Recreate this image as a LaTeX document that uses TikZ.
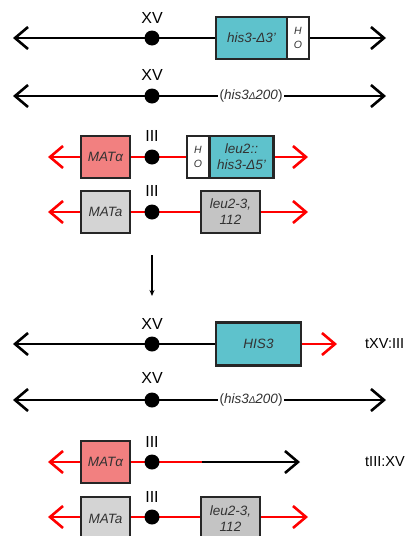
\documentclass[tikz,border=0pt]{standalone}
\usepackage{fontspec}
\setmainfont{Liberation Sans}
\usetikzlibrary{arrows.meta}
\definecolor{teal1}{RGB}{94,194,204}
\definecolor{salmon1}{RGB}{242,128,128}
\definecolor{gray1}{RGB}{212,212,212}
\definecolor{gray2}{RGB}{196,196,196}
\definecolor{red1}{RGB}{255,0,0}
\definecolor{txt}{RGB}{50,50,50}
\tikzset{
  barb/.tip={Straight Barb[length=13pt,width=22pt,line width=2.6pt]},
  chrom/.style={line width=2.8pt},
  blackchr/.style={chrom,draw=black},
  redchr/.style={chrom,draw=red1},
  dot/.style={circle,fill=black,inner sep=0pt,minimum size=15pt},
  gbox/.style={draw=black!85,line width=2.8pt,inner sep=0pt,minimum height=42pt,
    font=\itshape\fontsize{13.5}{14}\selectfont,text=txt,align=center},
  hobox/.style={gbox,fill=white,minimum width=22pt,font=\itshape\fontsize{10.5}{14}\selectfont},
  lab/.style={font=\fontsize{16}{17}\selectfont,inner sep=0pt},
  tlab/.style={font=\fontsize{14.5}{15}\selectfont,inner sep=0pt,anchor=west},
  deltxt/.style={fill=white,inner sep=2pt,text=txt,font=\fontsize{13.5}{14}\selectfont},
}
\begin{document}
\begin{tikzpicture}[x=1pt,y=-1pt]
\useasboundingbox (0,0) rectangle (411,536);
\clip (0,0) rectangle (411,536);
% ---------- Row 1 ----------
\coordinate (L1) at (13,38);
\coordinate (R1) at (386,38);
\draw[blackchr,barb-barb] (L1) -- (R1);
\node[dot] (d1) at (152,38) {};
\node[lab] (x1) at (152,18) {XV};
\node[gbox,fill=teal1,minimum width=71pt] (b1) at (251.5,38) {his3-Δ3'};
\node[hobox] (h1) at (298,38) {H\\O};
% ---------- Row 2 ----------
\coordinate (L2) at (13,96);
\coordinate (R2) at (386,96);
\draw[blackchr,barb-barb] (L2) -- (R2);
\node[dot] (d2) at (152,96) {};
\node[lab] (x2) at (152,75) {XV};
\node[deltxt] (t2) at (251,96) {(\textit{his3{\fontsize{10}{10}\selectfont Δ}200})};
% ---------- Row 3 ----------
\coordinate (L3) at (48,157);
\coordinate (R3) at (308,157);
\draw[redchr,barb-barb] (L3) -- (R3);
\node[gbox,fill=salmon1,minimum width=49pt] (m3) at (105.5,157) {MATα};
\node[dot] (d3) at (152,157) {};
\node[lab] (x3) at (152,136) {III};
\node[hobox] (h3) at (198,157) {H\\O};
\node[gbox,fill=teal1,minimum width=64pt,font=\itshape\fontsize{13.5}{16}\selectfont] (b3) at (241.5,157) {leu2::\\his3-Δ5'};
% ---------- Row 4 ----------
\coordinate (L4) at (48,212);
\coordinate (R4) at (308,212);
\draw[redchr,barb-barb] (L4) -- (R4);
\node[gbox,fill=gray1,minimum width=49pt] (m4) at (105.5,212) {MATa};
\node[dot] (d4) at (152,212) {};
\node[lab] (x4) at (152,191) {III};
\node[gbox,fill=gray2,minimum width=59pt,font=\itshape\fontsize{13.5}{16}\selectfont] (b4) at (230.5,212) {leu2-3,\\112};
% ---------- down arrow ----------
\coordinate (a1) at (152,255);
\coordinate (a2) at (152,296);
\draw[line width=1.3pt,-{Stealth[length=6pt,width=5pt]}] (a1) -- (a2);
% ---------- Row 5 ----------
\coordinate (L5) at (13,344);
\coordinate (M5) at (258,344);
\coordinate (R5) at (337,344);
\draw[blackchr,barb-] (L5) -- (M5);
\draw[redchr,-barb] (M5) -- (R5);
\node[gbox,fill=teal1,minimum width=85pt,minimum height=43pt] (b5) at (258.5,344) {HIS3};
\node[dot] (d5) at (152,344) {};
\node[lab] (x5) at (152,324) {XV};
\node[tlab] (t5) at (365,344) {tXV:III};
% ---------- Row 6 ----------
\coordinate (L6) at (13,400);
\coordinate (R6) at (386,400);
\draw[blackchr,barb-barb] (L6) -- (R6);
\node[dot] (d6) at (152,400) {};
\node[lab] (x6) at (152,378) {XV};
\node[deltxt] (t6) at (251,400) {(\textit{his3{\fontsize{10}{10}\selectfont Δ}200})};
% ---------- Row 7 ----------
\coordinate (L7) at (48,462);
\coordinate (J7) at (202,462);
\coordinate (R7) at (300,462);
\draw[redchr,barb-] (L7) -- (J7);
\draw[blackchr,-barb] (J7) -- (R7);
\node[gbox,fill=salmon1,minimum width=49pt] (m7) at (105.5,462) {MATα};
\node[dot] (d7) at (152,462) {};
\node[lab] (x7) at (152,442) {III};
\node[tlab] (t7) at (365,462) {tIII:XV};
% ---------- Row 8 ----------
\coordinate (L8) at (48,517);
\coordinate (R8) at (308,517);
\draw[redchr,barb-barb] (L8) -- (R8);
\node[gbox,fill=gray1,minimum width=49pt,minimum height=44pt] (m8) at (105.5,519) {MATa};
\node[dot] (d8) at (152,517) {};
\node[lab] (x8) at (152,497) {III};
\node[gbox,fill=gray2,minimum width=59pt,minimum height=44pt,font=\itshape\fontsize{13.5}{16}\selectfont] (b8) at (230.5,519) {leu2-3,\\112};
\end{tikzpicture}
\end{document}
